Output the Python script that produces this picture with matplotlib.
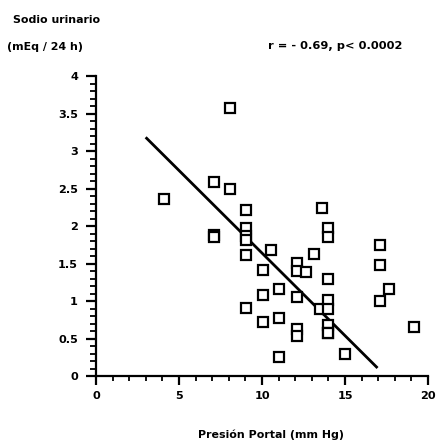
import numpy as np
import matplotlib
matplotlib.use("Agg")
import matplotlib.pyplot as plt
from matplotlib.ticker import MultipleLocator

# ── data ──────────────────────────────────────────────────────────────────────
presion = [4.1, 7.1, 7.1, 7.1, 8.1, 8.1, 9.05, 9.05, 9.05, 9.05, 9.05, 9.05,
           10.05, 10.05, 10.05, 10.55, 11.05, 11.05, 11.05,
           12.1, 12.1, 12.1, 12.1, 12.1, 12.65, 13.15, 13.5, 13.6,
           14.0, 14.0, 14.0, 14.0, 14.0, 14.0, 14.0, 14.0,
           15.0, 17.1, 17.1, 17.1, 17.65, 19.15]
sodio = [2.36, 2.59, 1.88, 1.85, 3.58, 2.50, 2.21, 1.97, 1.87, 1.82, 1.61, 0.91,
         1.42, 1.08, 0.72, 1.68, 1.16, 0.77, 0.26,
         1.51, 1.40, 1.05, 0.63, 0.53, 1.39, 1.63, 0.90, 2.24,
         1.98, 1.86, 1.30, 1.01, 0.89, 0.68, 0.57, 0.57,
         0.29, 1.75, 1.48, 1.00, 1.16, 0.65]

# regression line end points
fit_x = [3.05, 16.9]
fit_y = [3.17, 0.12]

x_ticks = [0, 5, 10, 15, 20]
y_ticks = [0, 0.5, 1, 1.5, 2, 2.5, 3, 3.5, 4]
y_labels = ["0", "0.5", "1", "1.5", "2", "2.5", "3", "3.5", "4"]

# ── figure ────────────────────────────────────────────────────────────────────
plt.rcParams["font.family"] = ["DejaVu Sans"]
plt.rcParams["font.weight"] = "bold"

fig = plt.figure(figsize=(4.37, 4.42), dpi=100)
ax = fig.add_axes([0.2197, 0.1493, 0.7597, 0.6787])

ax.plot(presion, sodio, ls="none", marker="s", ms=6.6, mfc="white",
        mec="black", mew=1.6, zorder=3)
ax.plot(fit_x, fit_y, color="black", lw=2.0, zorder=2)

ax.set_xlim(0, 20)
ax.set_ylim(0, 4)
for side in ("top", "right"):
    ax.spines[side].set_visible(False)
for side in ("left", "bottom"):
    ax.spines[side].set_linewidth(1.6)

ax.set_xticks(x_ticks)
ax.set_xticklabels([str(v) for v in x_ticks], fontsize=8.1, fontweight="bold")
ax.set_yticks(y_ticks)
ax.set_yticklabels(y_labels, fontsize=8.1, fontweight="bold")
ax.xaxis.set_minor_locator(MultipleLocator(1))
ax.yaxis.set_minor_locator(MultipleLocator(0.1))
ax.tick_params(axis="x", which="major", direction="out", length=6.5, width=1.6, pad=4.5)
ax.tick_params(axis="x", which="minor", direction="out", length=3.6, width=1.3)
ax.tick_params(axis="y", which="major", direction="out", length=7, width=1.6, pad=6)
ax.tick_params(axis="y", which="minor", direction="out", length=4.2, width=1.3)

# axis title and corner texts, placed in figure coordinates
fig.text(0.619, 0.009, "Presión Portal (mm Hg)", fontsize=7.9,
         fontweight="bold", ha="center", va="baseline")
fig.text(0.030, 0.948, "Sodio urinario", fontsize=7.9, fontweight="bold",
         ha="left", va="baseline")
fig.text(0.016, 0.888, "(mEq / 24 h)", fontsize=7.9, fontweight="bold",
         ha="left", va="baseline")
fig.text(0.613, 0.889, "r = - 0.69, p< 0.0002", fontsize=8.2,
         fontweight="bold", ha="left", va="baseline")

fig.savefig("out.png", dpi=100)
